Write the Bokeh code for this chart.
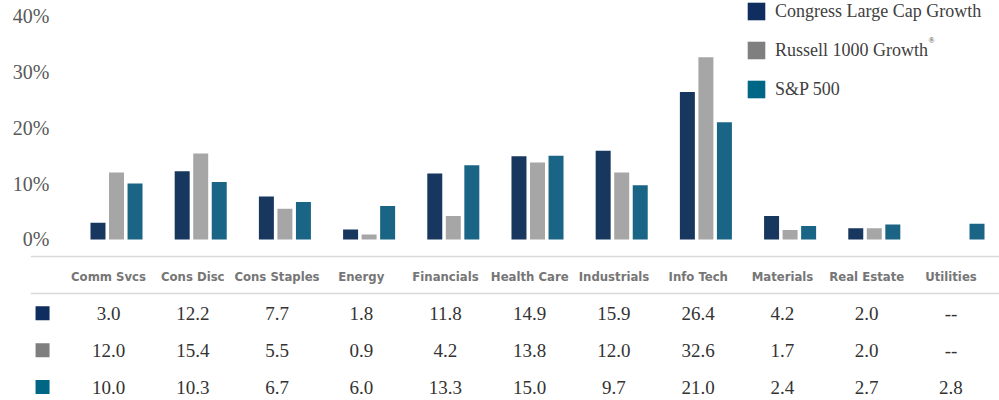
import math
from bokeh.plotting import figure
from bokeh.models import Range1d, FixedTicker, PrintfTickFormatter, ColumnDataSource, Legend, LegendItem, Span, Label
from bokeh.layouts import column
from bokeh.embed import file_html
from bokeh.resources import INLINE
from bokeh.core.properties import value

# ---------------- data ----------------
categories = ["Comm Svcs", "Cons Disc", "Cons Staples", "Energy", "Financials",
              "Health Care", "Industrials", "Info Tech", "Materials", "Real Estate", "Utilities"]
congress = [3.0, 12.2, 7.7, 1.8, 11.8, 14.9, 15.9, 26.4, 4.2, 2.0, None]
russell = [12.0, 15.4, 5.5, 0.9, 4.2, 13.8, 12.0, 32.6, 1.7, 2.0, None]
sp500 = [10.0, 10.3, 6.7, 6.0, 13.3, 15.0, 9.7, 21.0, 2.4, 2.7, 2.8]
series_names = ["Congress Large Cap Growth", "Russell 1000 Growth", "S&P 500"]
y_ticks = [0, 10, 20, 30, 40]

# ---------------- style ----------------
bar_colors = ["#17375E", "#A6A6A6", "#1A6585"]
key_colors = ["#0F2D5E", "#7F7F7F", "#006685"]
SERIF = "Liberation Serif"
HEAD = "DejaVu Sans Condensed"

W = 999
H1 = 254
H2 = 146
idx = list(range(len(categories)))
all_series = [congress, russell, sp500]

# ---------------- bar chart ----------------
top = figure(width=W, height=H1, output_backend="svg", toolbar_location=None,
             x_range=Range1d(-0.689, 10.487), y_range=Range1d(-2.685, 42.77),
             min_border_left=58, min_border_right=0, min_border_top=0, min_border_bottom=0)
top.frame_align = False
top.outline_line_color = None
top.xaxis.visible = False
top.xgrid.visible = False
top.ygrid.visible = False
top.background_fill_color = None
top.border_fill_color = None

ya = top.yaxis[0]
ya.ticker = FixedTicker(ticks=y_ticks)
ya.formatter = PrintfTickFormatter(format="%d%%")
ya.axis_line_color = None
ya.major_tick_line_color = None
ya.minor_tick_line_color = None
ya.major_label_text_font = SERIF
ya.major_label_text_font_size = "20px"
ya.major_label_text_color = "#595959"
ya.major_label_standoff = 3

offsets = [-0.22, 0.0, 0.22]
for vals, col, off in zip(all_series, bar_colors, offsets):
    src = ColumnDataSource(dict(
        x=[i + off for i in idx],
        top=[v if v is not None else math.nan for v in vals]))
    top.vbar(x="x", top="top", bottom=0, width=0.178, source=src,
             fill_color=col, line_color=None)

items = []
for name, col in zip(series_names, key_colors):
    r = top.vbar(x=[math.nan], top=[math.nan], width=0.1, fill_color=col, line_color=None)
    items.append(LegendItem(label=name, renderers=[r]))
legend = Legend(items=items, location=(687, 154), orientation="vertical",
                glyph_width=22, glyph_height=22, label_standoff=8, spacing=17,
                padding=0, margin=0, border_line_color=None, background_fill_alpha=0,
                label_text_font=SERIF, label_text_font_size="18px",
                label_text_color="#404040", label_height=22)
top.add_layout(legend)
top.add_layout(Label(x=9.644, y=35.6, text="\u00ae", text_font=SERIF, text_font_size="8px",
                     text_color="#404040", text_baseline="middle"))

# ---------------- table ----------------
tbl = figure(width=W, height=H2, output_backend="svg", toolbar_location=None,
             x_range=Range1d(-0.926, 10.576), y_range=Range1d(3.365, -0.597),
             min_border_left=30, min_border_right=0, min_border_top=0, min_border_bottom=0)
tbl.frame_align = False
tbl.outline_line_color = None
tbl.axis.visible = False
tbl.grid.visible = False
tbl.background_fill_color = None
tbl.border_fill_color = None

for loc in (-0.543, 0.461):
    tbl.add_layout(Span(location=loc, dimension="width", line_color="#D9D9D9", line_width=1.5))

tbl.text(x=idx, y=[0] * len(idx), text=categories, text_align="center", text_baseline="middle",
         text_font=value(HEAD), text_font_style="bold", text_font_size="13px", text_color="#767676")

for row, (vals, col) in enumerate(zip(all_series, key_colors), start=1):
    labels = ["--" if v is None else f"{v:.1f}" for v in vals]
    tbl.text(x=idx, y=[row] * len(idx), text=labels, text_align="center", text_baseline="middle",
             text_font=value(SERIF), text_font_size="19px", text_color="#333333")
    tbl.scatter(x=[-0.783], y=[row], marker="square", size=14, fill_color=col, line_color=None)

layout = column(top, tbl, spacing=0)
open("out.html", "w").write(file_html(layout, INLINE))
